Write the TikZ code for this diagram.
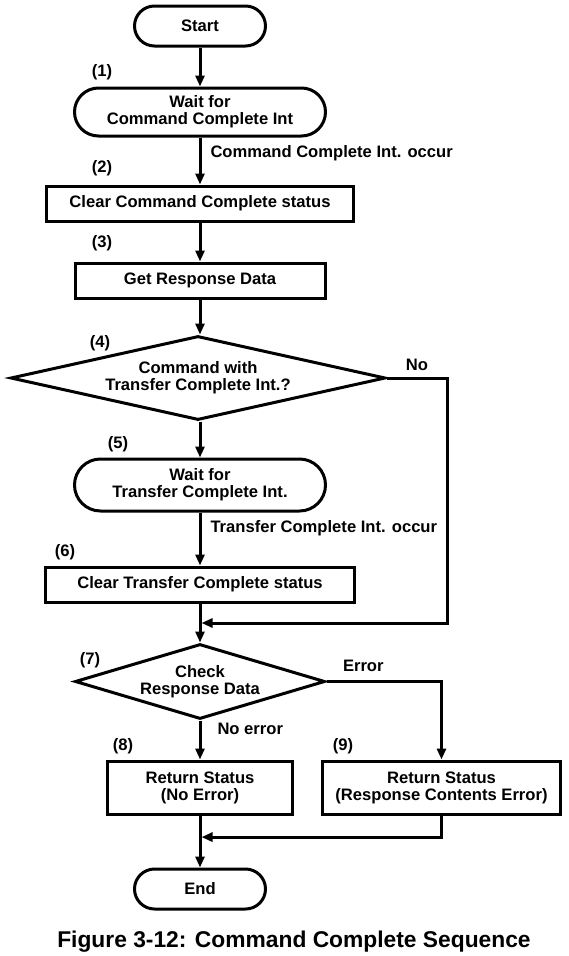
\documentclass[tikz,border=0pt]{standalone}
\usepackage{fontspec}
\setmainfont{Liberation Sans}
\usetikzlibrary{arrows.meta,positioning,shapes.geometric,calc}
\tikzset{
  sbase/.style={draw=black,line width=3pt,align=center,font=\bfseries\fontsize{16.6}{17}\selectfont,inner sep=0pt},
  sterm/.style={sbase,rectangle,rounded corners=20pt,minimum width=131pt,minimum height=40pt},
  swait/.style={sbase,rectangle,rounded corners=24pt,minimum width=251pt,minimum height=48pt},
  sproc/.style={sbase,rectangle,minimum height=35pt},
  sdec/.style={sbase,diamond,inner sep=0pt},
  sarr/.style={-{Triangle[length=11pt,width=9pt]},line width=3pt},
  stag/.style={font=\bfseries\fontsize{16.6}{17}\selectfont,inner sep=0pt},
  slab/.style={font=\bfseries\fontsize{16.6}{17}\selectfont,inner sep=0pt}
}
\begin{document}
\begin{tikzpicture}
\useasboundingbox (0,0) rectangle (568pt,-956pt);
\node[sterm] (start) at (200pt,-26pt) {Start};
\node[swait, below=39pt of start] (waitcc) {Wait for\\ Command Complete Int};
\node[sproc, below=47pt of waitcc, minimum width=307pt] (clrcc) {Clear Command Complete status};
\node[sproc, below=39pt of clrcc, minimum width=250pt] (getresp) {Get Response Data};
\node[sdec, below=35pt of getresp, minimum width=375pt, minimum height=84pt, aspect=4.4, xshift=-2pt] (dectc) {Command with\\ Transfer Complete Int.?};
\node[swait, below=36pt of dectc, xshift=2pt, minimum height=52pt, rounded corners=26pt] (waittc) {Wait for\\ Transfer Complete Int.};
\node[sproc, below=53pt of waittc, minimum width=309pt] (clrtc) {Clear Transfer Complete status};
\node[sdec, below=39pt of clrtc, minimum width=250pt, minimum height=75pt, aspect=3.3] (decresp) {Check\\ Response Data};
\node[sproc, below=39pt of decresp, minimum width=185pt, minimum height=53pt] (retok) {Return Status\\ (No Error)};
\node[sproc, right=27pt of retok, minimum width=238pt, minimum height=53pt] (reterr) {Return Status\\ (Response Contents Error)};
\node[sterm, below=52pt of retok] (end) {End};
\node[font=\bfseries\fontsize{22.8}{26}\selectfont, inner sep=0pt] (caption) at (294pt,-942pt) {Figure 3-12: Command Complete Sequence};
% merge points
\coordinate (mrgtc) at ($(clrtc.south)!0.5!(decresp.north)$);
\coordinate (mrgend) at ($(retok.south)!0.415!(end.north)$);
\draw[sarr] (start) -- (waitcc);
\draw[sarr] (waitcc) -- node[slab, right=9pt, pos=0.33] {Command Complete Int. occur} (clrcc);
\draw[sarr] (clrcc) -- (getresp);
\draw[sarr] (getresp) -- (getresp |- dectc.north);
\draw[sarr] (getresp |- dectc.south) -- (waittc);
\draw[sarr] (dectc.east) -- node[slab, above=6pt, pos=0.5] {No} ++(60pt,0) |- ([xshift=1.5pt]mrgtc);
\draw[sarr] (waittc) -- node[slab, right=9pt, pos=0.3] {Transfer Complete Int. occur} (clrtc);
\draw[sarr] (clrtc) -- (decresp);
\draw[sarr] (decresp.east) -| node[slab, above=8pt, pos=0.16] {Error} (reterr.north);
\draw[sarr] (decresp) -- node[slab, right=16pt, pos=0.22] {No error} (retok);
\draw[sarr] (retok) -- (end);
\draw[sarr] (reterr.south) |- ([xshift=1.5pt]mrgend);
\node[stag] (t1) at (102pt,-72pt) {(1)};
\node[stag] (t2) at (102pt,-168pt) {(2)};
\node[stag] (t3) at (102pt,-243pt) {(3)};
\node[stag] (t4) at (100pt,-343pt) {(4)};
\node[stag] (t5) at (118pt,-444pt) {(5)};
\node[stag] (t6) at (65pt,-552pt) {(6)};
\node[stag] (t7) at (90pt,-660pt) {(7)};
\node[stag] (t8) at (123pt,-746pt) {(8)};
\node[stag] (t9) at (343pt,-746pt) {(9)};
\end{tikzpicture}
\end{document}
